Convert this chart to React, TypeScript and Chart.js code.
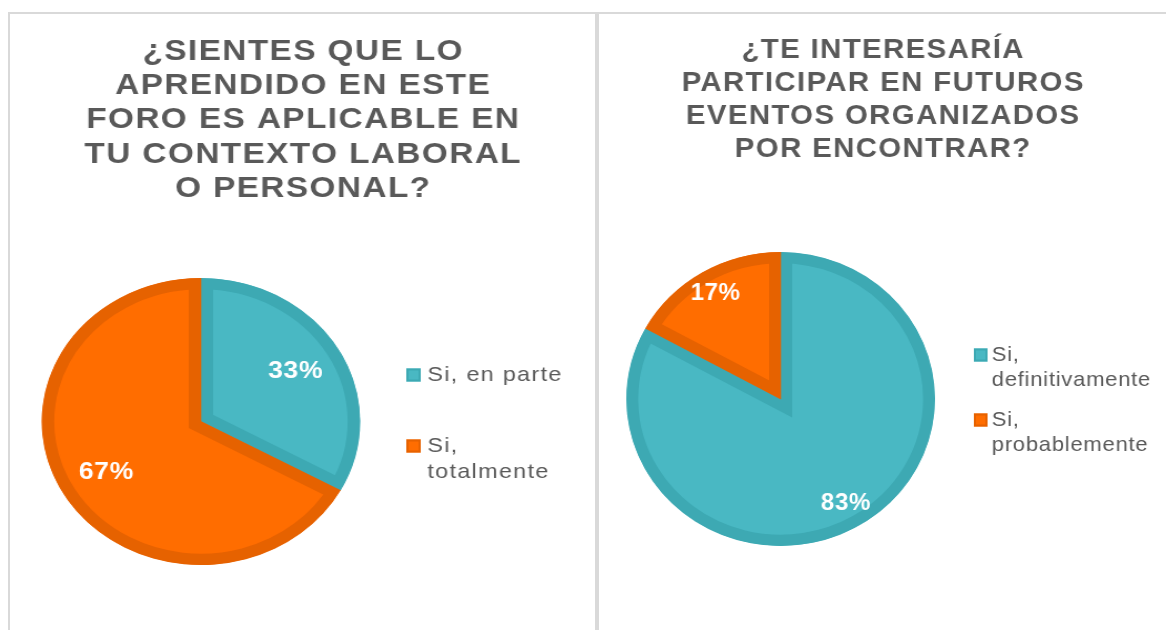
import React, { useEffect, useRef } from 'react';
import { Chart, registerables } from 'chart.js';

Chart.register(...registerables);

const FONT = '"Liberation Sans", Arial, Helvetica, sans-serif';

// ---- data ----
const leftTitleLines = ['¿SIENTES QUE LO', 'APRENDIDO EN ESTE', 'FORO ES APLICABLE EN', 'TU CONTEXTO LABORAL', 'O PERSONAL?'];
const leftCategories = ['Si, en parte', 'Si, totalmente'];
const leftValues = [33, 67];

const rightTitleLines = ['¿TE INTERESARÍA', 'PARTICIPAR EN FUTUROS', 'EVENTOS ORGANIZADOS', 'POR ENCONTRAR?'];
const rightCategories = ['Si, definitivamente', 'Si, probablemente'];
const rightValues = [83, 17];

// ---- styles ----
const TEAL = '#49B8C3';
const TEAL_DARK = '#3DA9B3';
const ORANGE = '#FF6D00';
const ORANGE_DARK = '#E66200';
const TEXT = '#595959';
const PANEL_BORDER = '#D9D9D9';

type PanelCfg = {
  title: string[];
  labels: string[];
  values: number[];
  colors: string[];
  borderColors: string[];
  canvasW: number;
  cssW: number;
  height: number;
  padding: { left: number; right: number; top: number; bottom: number };
  titleSize: number;
  titleSpacing: number;
  titleY: number;
  titleLH: number;
  legendSwatchX: number;
  legendTextX: number;
  legendYs: number[];
  legendLH: number;
  legendWrap: number;
  legendSize: number;
  legendSpacing: number;
  pctSize: number;
  pctRatio: number;
};

function wrapText(ctx: CanvasRenderingContext2D, text: string, maxW: number): string[] {
  const words = text.split(' ');
  const lines: string[] = [];
  let cur = '';
  for (const w of words) {
    const test = cur ? cur + ' ' + w : w;
    if (cur && ctx.measureText(test).width > maxW) {
      lines.push(cur);
      cur = w;
    } else {
      cur = test;
    }
  }
  if (cur) lines.push(cur);
  return lines;
}

function makeDecor(cfg: PanelCfg) {
  return {
    id: 'panelDecor',
    afterDraw(chart: any) {
      const ctx: CanvasRenderingContext2D = chart.ctx;
      // title
      ctx.save();
      ctx.fillStyle = TEXT;
      ctx.font = `bold ${cfg.titleSize}px ${FONT}`;
      ctx.textAlign = 'center';
      ctx.textBaseline = 'middle';
      (ctx as any).letterSpacing = `${cfg.titleSpacing}px`;
      cfg.title.forEach((line, i) => {
        ctx.fillText(line, chart.width / 2 + cfg.titleSpacing / 2, cfg.titleY + i * cfg.titleLH);
      });
      ctx.restore();

      // legend
      const ds = chart.data.datasets[0];
      ctx.save();
      ctx.font = `${cfg.legendSize}px ${FONT}`;
      (ctx as any).letterSpacing = `${cfg.legendSpacing}px`;
      ctx.textAlign = 'left';
      ctx.textBaseline = 'middle';
      const sw = 13;
      (chart.data.labels as string[]).forEach((lab, i) => {
        const y0 = cfg.legendYs[i];
        ctx.fillStyle = ds.backgroundColor[i];
        ctx.fillRect(cfg.legendSwatchX, y0 - sw / 2, sw, sw);
        ctx.strokeStyle = ds.borderColor[i];
        ctx.lineWidth = 2;
        ctx.strokeRect(cfg.legendSwatchX + 1, y0 - sw / 2 + 1, sw - 2, sw - 2);
        ctx.fillStyle = TEXT;
        const lines = wrapText(ctx, lab, cfg.legendWrap);
        lines.forEach((ln, j) => ctx.fillText(ln, cfg.legendTextX, y0 + j * cfg.legendLH));
      });
      ctx.restore();

      // percentage labels
      const meta = chart.getDatasetMeta(0);
      const values: number[] = ds.data;
      const total = values.reduce((a, b) => a + b, 0);
      ctx.save();
      ctx.font = `bold ${cfg.pctSize}px ${FONT}`;
      (ctx as any).letterSpacing = '0.5px';
      ctx.fillStyle = '#FFFFFF';
      ctx.textAlign = 'center';
      ctx.textBaseline = 'middle';
      meta.data.forEach((arc: any, i: number) => {
        const p = arc.getProps(['x', 'y', 'startAngle', 'endAngle', 'outerRadius'], true);
        const mid = (p.startAngle + p.endAngle) / 2;
        const r = p.outerRadius * cfg.pctRatio;
        const txt = Math.round((values[i] / total) * 100) + '%';
        ctx.fillText(txt, p.x + Math.cos(mid) * r, p.y + Math.sin(mid) * r);
      });
      ctx.restore();
    },
  };
}

function PiePanel({ cfg }: { cfg: PanelCfg }) {
  const ref = useRef<HTMLCanvasElement>(null);
  useEffect(() => {
    const chart = new Chart(ref.current as HTMLCanvasElement, {
      type: 'pie',
      data: {
        labels: cfg.labels,
        datasets: [
          {
            data: cfg.values,
            backgroundColor: cfg.colors,
            borderColor: cfg.borderColors,
            borderWidth: 11,
            borderAlign: 'inner',
            borderJoinStyle: 'miter',
            hoverOffset: 0,
          } as any,
        ],
      },
      options: {
        responsive: false,
        animation: false,
        devicePixelRatio: 1,
        events: [],
        layout: { padding: cfg.padding },
        plugins: {
          legend: { display: false },
          title: { display: false },
          tooltip: { enabled: false },
        },
      },
      plugins: [makeDecor(cfg)],
    });
    return () => chart.destroy();
  }, []);
  return (
    <canvas
      ref={ref}
      width={cfg.canvasW}
      height={cfg.height}
      style={{ width: cfg.cssW + 'px', height: cfg.height + 'px', display: 'block' }}
    />
  );
}

const leftCfg: PanelCfg = {
  title: leftTitleLines,
  labels: leftCategories,
  values: leftValues,
  colors: [TEAL, ORANGE],
  borderColors: [TEAL_DARK, ORANGE_DARK],
  canvasW: 527,
  cssW: 585,
  height: 616,
  padding: { left: 22, right: 205, top: 264, bottom: 65 },
  titleSize: 30,
  titleSpacing: 1.3,
  titleY: 37.5,
  titleLH: 34.3,
  legendSwatchX: 357,
  legendTextX: 376,
  legendYs: [361, 432],
  legendLH: 26.5,
  legendWrap: 130,
  legendSize: 21,
  legendSpacing: 1.2,
  pctSize: 24,
  pctRatio: 0.69,
};

const rightCfg: PanelCfg = {
  title: rightTitleLines,
  labels: rightCategories,
  values: rightValues,
  colors: [TEAL, ORANGE],
  borderColors: [TEAL_DARK, ORANGE_DARK],
  canvasW: 540,
  cssW: 567,
  height: 616,
  padding: { left: 23, right: 217, top: 238, bottom: 84 },
  titleSize: 28,
  titleSpacing: 1.3,
  titleY: 36,
  titleLH: 33,
  legendSwatchX: 357,
  legendTextX: 374,
  legendYs: [341, 406],
  legendLH: 25,
  legendWrap: 140,
  legendSize: 21,
  legendSpacing: 0.7,
  pctSize: 23,
  pctRatio: 0.83,
};

export default function App() {
  return (
    <div style={{ position: 'absolute', left: 0, top: 0, width: 1166, height: 630, overflow: 'hidden', background: '#FFFFFF' }}>
      <div
        style={{
          position: 'absolute',
          left: 8,
          top: 12,
          width: 589,
          height: 640,
          boxSizing: 'border-box',
          border: `2px solid ${PANEL_BORDER}`,
          background: '#FFFFFF',
        }}
      >
        <PiePanel cfg={leftCfg} />
      </div>
      <div
        style={{
          position: 'absolute',
          left: 597,
          top: 12,
          width: 600,
          height: 640,
          boxSizing: 'border-box',
          border: `2px solid ${PANEL_BORDER}`,
          background: '#FFFFFF',
        }}
      >
        <PiePanel cfg={rightCfg} />
      </div>
    </div>
  );
}
